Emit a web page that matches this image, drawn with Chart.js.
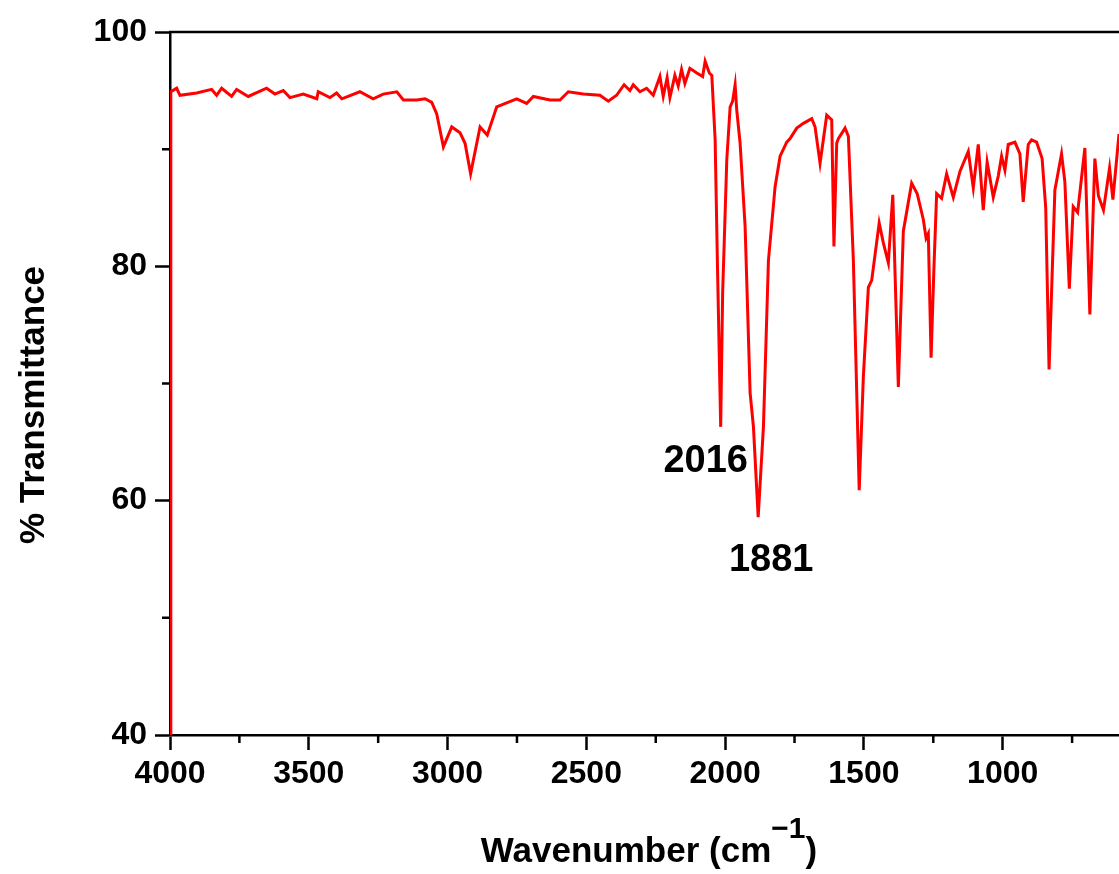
<!DOCTYPE html>
<html>
<head>
<meta charset="utf-8">
<title>IR spectrum</title>
<script src="https://cdn.jsdelivr.net/npm/chart.js@4.4.1/dist/chart.umd.min.js"></script>
<style>
  html, body { margin: 0; padding: 0; background: #fff; }
  #wrap { width: 1119px; height: 874px; position: relative; }
</style>
</head>
<body>
<div id="wrap"><canvas id="irChart"></canvas></div>
<script>
// spectrum: wavenumber (cm-1) -> % transmittance
const wavenumber = [
  4000, 3997, 3976, 3964, 3904, 3850, 3832, 3814, 3778, 3760, 3718, 3652, 3622, 3592, 3568,
  3520, 3471, 3466, 3424, 3400, 3381, 3316, 3268, 3232, 3183, 3159, 3111, 3081, 3057, 3039,
  3015, 2985, 2955, 2937, 2917, 2883, 2857, 2823, 2751, 2715, 2691, 2631, 2595, 2565, 2511,
  2451, 2421, 2391, 2364, 2343, 2331, 2307, 2283, 2259, 2235, 2223, 2209, 2199, 2181, 2169,
  2157, 2145, 2127, 2102, 2081, 2072, 2057, 2048, 2036, 2028, 2016, 2009, 1994, 1982, 1973,
  1964, 1958, 1946, 1928, 1910, 1898, 1881, 1862, 1844, 1820, 1802, 1778, 1766, 1742, 1718,
  1688, 1676, 1658, 1634, 1616, 1608, 1598, 1592, 1568, 1556, 1538, 1517, 1502, 1484, 1472,
  1445, 1430, 1412, 1396, 1376, 1358, 1328, 1308, 1286, 1276, 1268, 1258, 1248, 1238, 1220,
  1202, 1178, 1154, 1124, 1106, 1088, 1070, 1056, 1034, 1016, 1004, 992, 980, 956, 938,
  926, 908, 896, 878, 858, 845, 833, 812, 788, 776, 760, 746, 730, 704, 686,
  668, 655, 637, 615, 603, 581
];
const transmittance = [
  40.0, 94.9, 95.2, 94.6, 94.8, 95.1, 94.6, 95.2, 94.5, 95.1, 94.5, 95.2, 94.7, 95.0, 94.4,
  94.7, 94.3, 94.9, 94.4, 94.8, 94.3, 94.9, 94.3, 94.7, 94.9, 94.2, 94.2, 94.3, 94.0, 93.0,
  90.2, 91.9, 91.4, 90.5, 87.9, 91.9, 91.2, 93.6, 94.3, 93.9, 94.5, 94.2, 94.2, 94.9, 94.7,
  94.6, 94.1, 94.6, 95.5, 95.0, 95.5, 94.9, 95.2, 94.6, 96.2, 94.5, 96.1, 94.4, 96.3, 95.4,
  96.8, 95.6, 96.9, 96.5, 96.2, 97.5, 96.5, 96.3, 90.8, 80.5, 66.3, 77.7, 89.1, 93.6, 94.1,
  95.5, 93.3, 90.5, 83.4, 69.2, 66.3, 58.6, 66.3, 80.5, 86.8, 89.4, 90.6, 90.9, 91.8, 92.2,
  92.6, 91.9, 88.8, 92.9, 92.5, 81.7, 90.5, 90.9, 91.8, 91.1, 80.5, 60.9, 70.6, 78.2, 78.8,
  83.7, 82.0, 80.3, 86.1, 69.7, 83.0, 87.1, 86.2, 84.0, 82.4, 82.8, 72.2, 79.7, 86.2, 85.8,
  87.9, 85.9, 88.1, 89.8, 86.7, 90.4, 84.8, 88.9, 85.9, 87.7, 89.4, 88.2, 90.4, 90.6, 89.6,
  85.5, 90.4, 90.8, 90.6, 89.2, 85.0, 71.2, 86.5, 89.6, 87.2, 78.1, 85.1, 84.6, 90.1, 75.9,
  89.2, 86.0, 84.8, 88.4, 85.7, 91.3
];

const xMajorTicks = [1000, 1500, 2000, 2500, 3000, 3500, 4000];
const xMinorTicks = [750, 1250, 1750, 2250, 2750, 3250, 3750];
const yMajorTicks = [40, 60, 80, 100];
const yMinorTicks = [50, 70, 90];

const peakLabels = ["2016", "1881"];
const peakWavenumbers = [2016, 1881];

const FONT = "'Liberation Sans', Arial, sans-serif";

// top frame, minor ticks, peak labels and axis titles
const extras = {
  id: "extras",
  afterDraw(chart) {
    const { ctx, chartArea, scales } = chart;
    const x = scales.x;
    const y = scales.y;
    ctx.save();
    ctx.strokeStyle = "#000";
    ctx.lineWidth = 2.5;
    ctx.beginPath();
    ctx.moveTo(chartArea.left - 1, chartArea.top);
    ctx.lineTo(chartArea.right, chartArea.top);
    ctx.stroke();

    ctx.beginPath();
    xMinorTicks.forEach(v => {
      const px = x.getPixelForValue(v);
      ctx.moveTo(px, chartArea.bottom);
      ctx.lineTo(px, chartArea.bottom + 8);
    });
    yMinorTicks.forEach(v => {
      const py = y.getPixelForValue(v);
      ctx.moveTo(chartArea.left, py);
      ctx.lineTo(chartArea.left - 8, py);
    });
    ctx.stroke();

    ctx.fillStyle = "#000";
    ctx.textBaseline = "middle";
    ctx.textAlign = "center";
    ctx.font = "bold 38px " + FONT;
    peakWavenumbers.forEach((wn, i) => {
      const k = wavenumber.indexOf(wn);
      const px = x.getPixelForValue(wn);
      const py = y.getPixelForValue(transmittance[k]);
      const dx = i === 0 ? -15 : 13;
      const dy = i === 0 ? 35 : 43;
      ctx.fillText(peakLabels[i], px + dx, py + dy);
    });

    // x title with superscript
    const main = "Wavenumber (cm";
    const sup = "\u22121";
    ctx.font = "bold 35px " + FONT;
    const w1 = ctx.measureText(main).width;
    const w3 = ctx.measureText(")").width;
    ctx.font = "bold 30px " + FONT;
    const w2 = ctx.measureText(sup).width;
    const total = w1 + w2 + w3;
    const tx = 649 - total / 2;
    const baseY = 862;
    ctx.textAlign = "left";
    ctx.textBaseline = "alphabetic";
    ctx.font = "bold 35px " + FONT;
    ctx.fillText(main, tx, baseY);
    ctx.font = "bold 30px " + FONT;
    ctx.fillText(sup, tx + w1, baseY - 24);
    ctx.font = "bold 35px " + FONT;
    ctx.fillText(")", tx + w1 + w2, baseY);

    // y title
    ctx.translate(34, 405);
    ctx.rotate(-Math.PI / 2);
    ctx.textAlign = "center";
    ctx.textBaseline = "middle";
    ctx.font = "bold 35px " + FONT;
    ctx.fillText("% Transmittance", 0, 0);
    ctx.restore();
  }
};

new Chart(document.getElementById("irChart"), {
  type: "line",
  data: {
    datasets: [
      {
        label: "% Transmittance",
        data: wavenumber.map((wn, i) => ({ x: wn, y: transmittance[i] })),
        borderColor: "#ff0000",
        borderWidth: 3,
        pointRadius: 0,
        tension: 0,
        fill: false,
      },
    ],
  },
  options: {
    responsive: true,
    maintainAspectRatio: false,
    animation: false,
    layout: { padding: { top: 32, left: 0, right: 0, bottom: 0 } },
    plugins: {
      legend: { display: false },
      tooltip: { enabled: false },
    },
    scales: {
      x: {
        type: "linear",
        reverse: true,
        min: 581,
        max: 4000,
        afterBuildTicks: scale => {
          scale.ticks = xMajorTicks.map(v => ({ value: v }));
        },
        afterFit: scale => {
          scale.height = 139;
        },
        border: { color: "#000", width: 2.5 },
        grid: { drawOnChartArea: false, color: "#000", tickLength: 15, tickWidth: 2.5 },
        ticks: {
          color: "#000",
          padding: 5,
          maxRotation: 0,
          font: { family: FONT, size: 32, weight: "bold" },
          callback: v => String(v),
        },
      },
      y: {
        min: 40,
        max: 100,
        afterBuildTicks: scale => {
          scale.ticks = yMajorTicks.map(v => ({ value: v }));
        },
        afterFit: scale => {
          scale.width = 170;
        },
        border: { color: "#000", width: 2.5 },
        grid: { drawOnChartArea: false, color: "#000", tickLength: 15, tickWidth: 2.5 },
        ticks: {
          color: "#000",
          padding: 8,
          font: { family: FONT, size: 32, weight: "bold" },
          callback: v => String(v),
        },
      },
    },
  },
  plugins: [extras],
});
</script>
</body>
</html>
